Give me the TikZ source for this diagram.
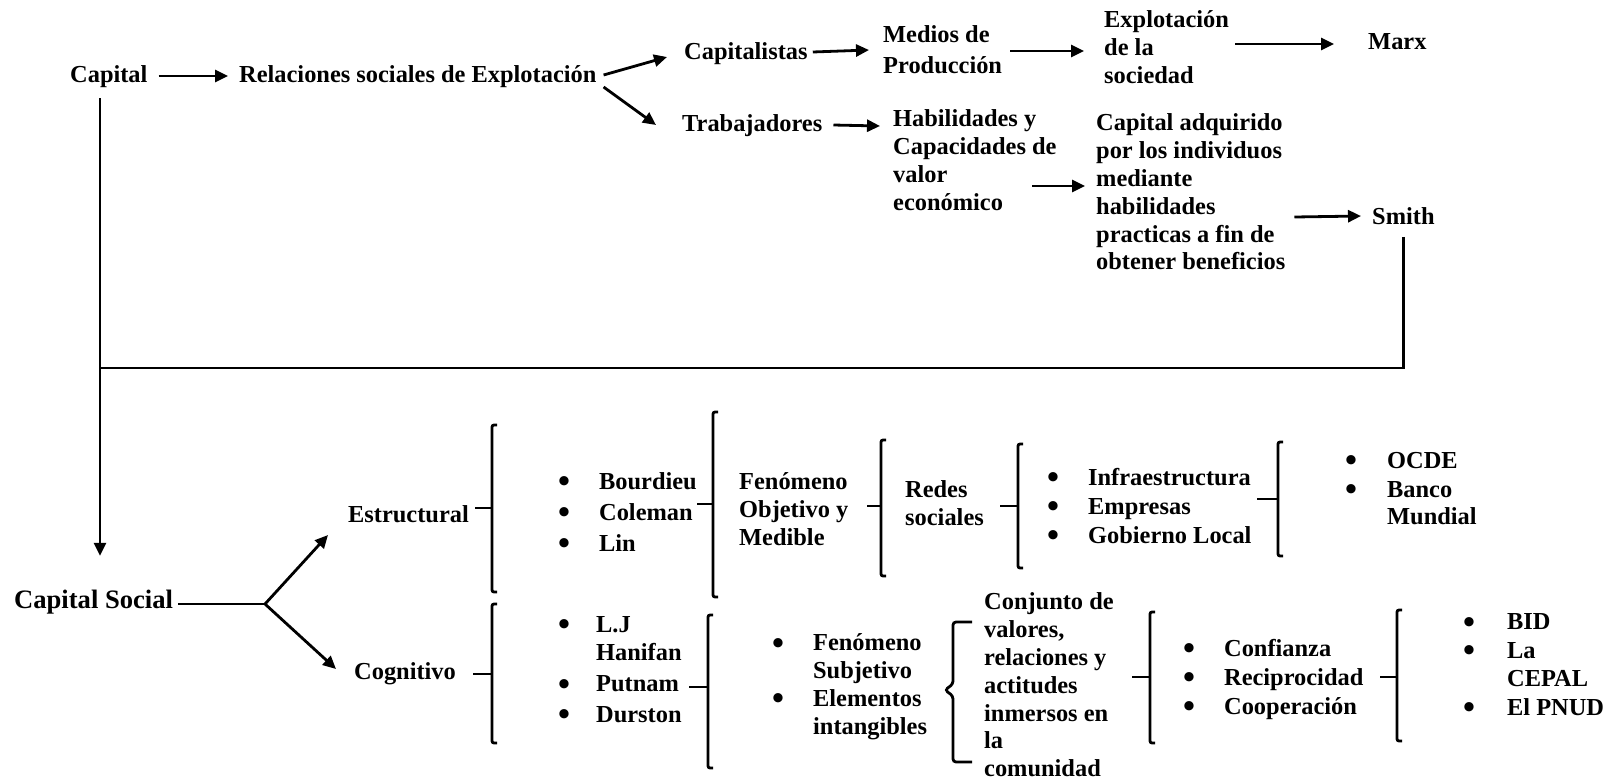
\documentclass[tikz,border=0pt]{standalone}
\usepackage{fontspec}
\setmainfont{Liberation Serif}
\usetikzlibrary{arrows.meta,calc}
\newcommand\fs{\fontsize{24.4}{27.8}\selectfont\bfseries}
\newcommand\bul{\raisebox{-3.2pt}{\scalebox{1.4}{\textbullet}}}
\newcommand\bracketdraw[5]{% tickstart, x, top, bottom, mid
  \draw[ln] (#1,#5) -- (#2,#5);
  \draw[ln,rounded corners=2pt] (#2+5,#3) -- (#2,#3) -- (#2,#4) -- (#2+5,#4);}
\begin{document}
\begin{tikzpicture}[x=1pt,y=-1pt,
  txt/.style={anchor=west,inner sep=0pt,align=left,font=\fs},
  ln/.style={line width=2.8pt},
  arr/.style={ln,-{Triangle[length=13pt,width=12pt]}}]
\useasboundingbox[fill=white] (0,0) rectangle (1613,780);

% top part
\node[txt] (capital) at (70,77) {Capital};
\node[txt] (rel) at (239,77) {Relaciones sociales de Explotación};
\node[txt] (capitalistas) at (684,54) {Capitalistas};
\node[txt] (medios) at (883,50) {Medios de\\[3pt]Producción};
\node[txt] (explot) at (1104,47) {Explotación\\de la\\sociedad};
\node[txt] (marx) at (1368,42) {Marx};
\node[txt] (trab) at (682,126) {Trabajadores};
\node[txt] (habil) at (893,160) {Habilidades y\\Capacidades de\\valor\\económico};
\node[txt] (adq) at (1096,192) {Capital adquirido\\por los individuos\\mediante\\habilidades\\practicas a fin de\\obtener beneficios};
\node[txt] (smith) at (1372,216) {Smith};

\draw[arr] ([xshift=11pt,yshift=1pt]capital.east) -- ([xshift=-11pt,yshift=1pt]rel.west);
\draw[arr] ([xshift=7pt,yshift=2pt]rel.east) -- ([xshift=-17pt,yshift=-3pt]capitalistas.west);
\draw[arr] ([xshift=7pt,yshift=-10pt]rel.east) -- ([xshift=-26pt,yshift=1pt]trab.west);
\draw[arr] ([xshift=5pt,yshift=2pt]capitalistas.east) -- ([xshift=-14pt,yshift=0pt]medios.west);
\draw[arr] ([xshift=8pt,yshift=-1pt]medios.east) -- ([xshift=-20pt,yshift=-4pt]explot.west);
\draw[arr] ([xshift=6pt,yshift=3pt]explot.east) -- ([xshift=-34pt,yshift=-2pt]marx.west);
\draw[arr] ([xshift=11pt,yshift=1pt]trab.east) -- ([xshift=-13pt,yshift=34pt]habil.west);
\draw[arr] ([xshift=139pt,yshift=-26pt]habil.west) -- ([xshift=-11pt,yshift=6pt]adq.west);
\draw[arr] ([xshift=9pt,yshift=-25pt]adq.east) -- ([xshift=-11pt]smith.west);

% return line
\coordinate (j) at (100,368);
\draw[ln] ([yshift=-12pt]smith.south) |- (j);

% capital social
\node[txt,font=\fontsize{26.6}{30}\selectfont\bfseries] (capsocial) at (14,602) {Capital Social};
\draw[arr] ([yshift=-10pt]capital.south -| j) -- ([yshift=34pt]capsocial.north -| j);
\coordinate (fork) at (265,604);
\draw[ln] ([xshift=5pt,yshift=-2pt]capsocial.east) -- (fork);
\node[txt] (estr) at (348,514) {Estructural};
\node[txt] (cogn) at (354,674) {Cognitivo};
\draw[arr] (fork) -- ([xshift=-20pt,yshift=-21pt]estr.west);
\draw[arr] (fork) -- ([xshift=-18pt,yshift=5pt]cogn.west);

% estructural row
\bracketdraw{475}{492}{425}{592}{508}
\node[txt] (aut1) at (558,515) {\begin{tabular}{@{}l@{\hspace{29pt}}l@{}}\bul&Bourdieu\\[3pt]\bul&Coleman\\[3pt]\bul&Lin\end{tabular}};
\bracketdraw{697}{713}{412}{597}{504}
\node[txt] (fobj) at (739,509) {Fenómeno\\Objetivo y\\Medible};
\bracketdraw{867}{881}{440}{576}{506}
\node[txt] (redes) at (905,503) {Redes\\sociales};
\bracketdraw{1000}{1018}{444}{568}{506}
\node[txt] (infra) at (1047,509) {\begin{tabular}{@{}l@{\hspace{29pt}}l@{}}\bul&Infraestructura\\[1pt]\bul&Empresas\\[1pt]\bul&Gobierno Local\end{tabular}};
\bracketdraw{1257}{1278}{442}{556}{499}
\node[txt] (ocde) at (1345,491) {\begin{tabular}{@{}l@{\hspace{30pt}}l@{}}\bul&OCDE\\[1pt]\bul&Banco\\&Mundial\end{tabular}};

% cognitivo row
\bracketdraw{473}{492}{604}{743}{674}
\node[txt] (aut2) at (558,672) {\begin{tabular}{@{}l@{\hspace{26pt}}l@{}}\bul&L.J\\&Hanifan\\[4pt]\bul&Putnam\\[3pt]\bul&Durston\end{tabular}};
\bracketdraw{689}{708}{615}{768}{687}
\node[txt] (fsubj) at (772,687) {\begin{tabular}{@{}l@{\hspace{29pt}}l@{}}\bul&Fenómeno\\&Subjetivo\\\bul&Elementos\\&intangibles\end{tabular}};
\draw[ln,rounded corners=3pt] (972,622) -- (953,622) -- (953,684) -- (945,690) -- (953,696) -- (953,762) -- (972,762);
\node[txt] (conj) at (984,685) {Conjunto de\\valores,\\relaciones y\\actitudes\\inmersos en\\la\\comunidad};
\bracketdraw{1132}{1150}{612}{743}{677}
\node[txt] (conf) at (1183,680) {\begin{tabular}{@{}l@{\hspace{29pt}}l@{}}\bul&Confianza\\[1pt]\bul&Reciprocidad\\[1pt]\bul&Cooperación\end{tabular}};
\bracketdraw{1380}{1397}{610}{741}{677}
\node[txt] (bid) at (1463,667) {\begin{tabular}{@{}l@{\hspace{32pt}}l@{}}\bul&BID\\[1pt]\bul&La\\&CEPAL\\[1pt]\bul&El PNUD\end{tabular}};
\end{tikzpicture}
\end{document}
